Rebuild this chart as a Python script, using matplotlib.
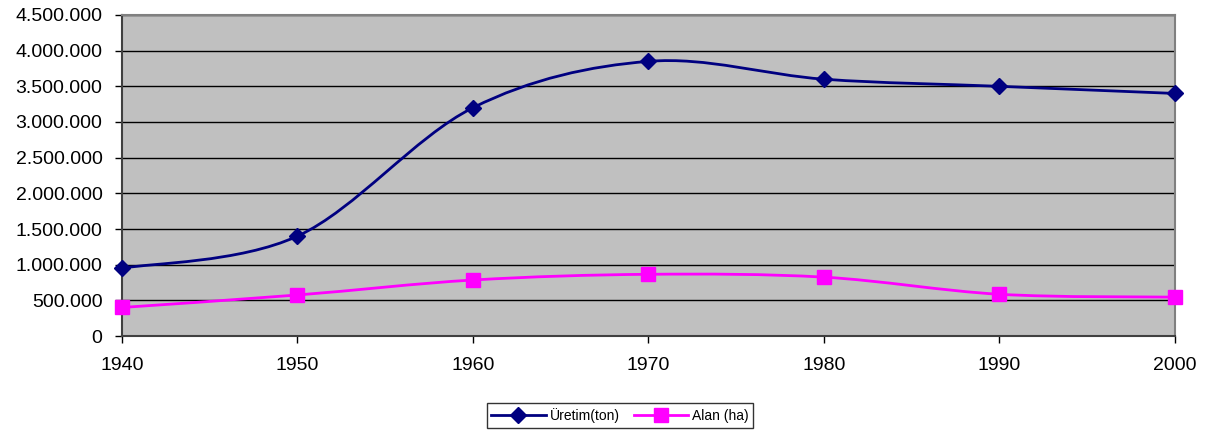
import numpy as np
import matplotlib
matplotlib.use("Agg")
import matplotlib.pyplot as plt
from matplotlib.path import Path
from matplotlib.patches import PathPatch
from matplotlib.lines import Line2D
from matplotlib.ticker import FuncFormatter, MultipleLocator

plt.rcParams['font.family'] = ['Liberation Sans', 'DejaVu Sans']

years = [1940, 1950, 1960, 1970, 1980, 1990, 2000]
uretim = [950000, 1400000, 3200000, 3850000, 3600000, 3500000, 3400000]
alan = [400000, 575000, 785000, 865000, 825000, 585000, 545000]

navy = '#000080'
magenta = '#FF00FF'


def smooth_path(x, y):
    # excel style smoothed line: cubic bezier segments, catmull-rom tangents
    x = np.asarray(x, float)
    y = np.asarray(y, float)
    verts = [(x[0], y[0])]
    codes = [Path.MOVETO]
    n = len(x)
    for i in range(n - 1):
        p0 = (x[max(i - 1, 0)], y[max(i - 1, 0)])
        p1 = (x[i], y[i])
        p2 = (x[i + 1], y[i + 1])
        p3 = (x[min(i + 2, n - 1)], y[min(i + 2, n - 1)])
        c1 = (p1[0] + (p2[0] - p0[0]) / 6, p1[1] + (p2[1] - p0[1]) / 6)
        c2 = (p2[0] - (p3[0] - p1[0]) / 6, p2[1] - (p3[1] - p1[1]) / 6)
        verts += [c1, c2, p2]
        codes += [Path.CURVE4] * 3
    return Path(verts, codes)


fig = plt.figure(figsize=(12.05, 4.32), dpi=100)
ax = fig.add_axes([0.1012, 0.2222, 0.8739, 0.7431])
ax.set_facecolor('#C0C0C0')

for ys, col in [(uretim, navy), (alan, magenta)]:
    ax.add_patch(PathPatch(smooth_path(years, ys), facecolor='none',
                           edgecolor=col, lw=2, zorder=3, clip_on=False))

ax.plot(years, uretim, linestyle='none', marker='D', color=navy, markersize=8,
        zorder=4, clip_on=False)
ax.plot(years, alan, linestyle='none', marker='s', color=magenta, markersize=10,
        zorder=4, clip_on=False)

ax.set_xlim(1940, 2000)
ax.set_ylim(0, 4500000)
ax.set_xticks(years)
ax.yaxis.set_major_locator(MultipleLocator(500000))
ax.yaxis.set_major_formatter(FuncFormatter(lambda v, p: f"{int(v):,}".replace(',', '.')))
ax.grid(axis='y', color='black', lw=1)
ax.set_axisbelow(True)

ax.tick_params(axis='both', labelsize=14, direction='out', length=5, width=1, colors='black')
ax.tick_params(axis='x', pad=10)
ax.tick_params(axis='y', pad=9)
ax.spines['left'].set_color('#404040')
ax.spines['bottom'].set_color('#404040')
ax.spines['top'].set_color('#808080')
ax.spines['right'].set_color('#808080')
for s in ax.spines.values():
    s.set_linewidth(1.5)

handles = [Line2D([], [], color=navy, lw=2, marker='D', markersize=8),
           Line2D([], [], color=magenta, lw=2, marker='s', markersize=10)]
leg = fig.legend(handles, ['Üretim(ton)', 'Alan (ha)'], loc='center',
                 bbox_to_anchor=(0.5145, 0.0385), ncol=2, fontsize=10,
                 frameon=True, fancybox=False, edgecolor='black',
                 handlelength=3.9, columnspacing=1.0, handletextpad=0.3,
                 borderpad=0.35, borderaxespad=0)
leg.get_frame().set_linewidth(1)

fig.savefig('out.png', dpi=100)
